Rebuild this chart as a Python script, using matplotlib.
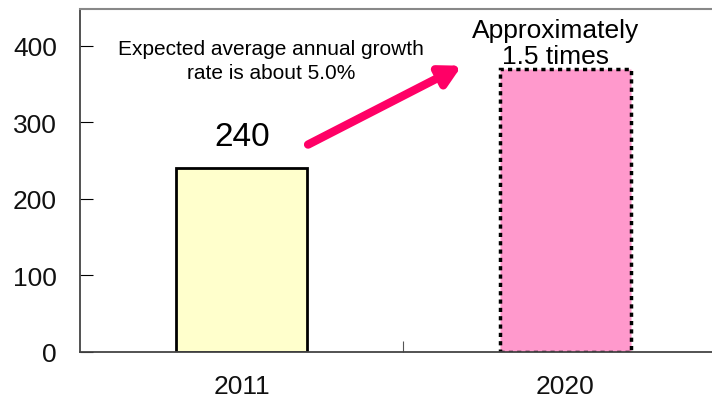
import matplotlib.pyplot as plt

plt.rcParams['font.family'] = ['Liberation Sans', 'DejaVu Sans']

# data
years = ['2011', '2020']
values = [240, 370]
bar_colors = ['#FFFFCC', '#FF99CC']

fig = plt.figure(figsize=(7.12, 4.02), dpi=100)
ax = fig.add_axes([0.1124, 0.1219, 0.9086, 0.853])

x = range(len(years))
bars = ax.bar(x, values, width=0.405, color=bar_colors, edgecolor='black', linewidth=2)
bars[1].set_linestyle((0, (1.2, 1.2)))
bars[1].set_linewidth(2.5)

ax.set_xlim(-0.5, 1.5)
ax.set_ylim(0, 448)
ax.set_yticks([0, 100, 200, 300, 400])
ax.set_xticks([0.5])
ax.set_xticklabels([''])
for i, yr in enumerate(years):
    ax.text(i, -44, yr, ha='center', va='center', fontsize=19, color='#111111')

ax.tick_params(axis='y', direction='in', length=9, labelsize=19, labelcolor='#111111', pad=16.5)
ax.tick_params(axis='x', direction='in', length=8, color='#555555')

for s in ['left', 'bottom']:
    ax.spines[s].set_color('#444444')
    ax.spines[s].set_linewidth(1.3)
ax.spines['top'].set_color('#888888')
ax.spines['top'].set_linewidth(1.5)
ax.spines['right'].set_visible(False)

# annotations
ax.text(0, 281, str(values[0]), ha='center', va='center', fontsize=24)
ax.text(0.97, 404, 'Approximately\n1.5 times', ha='center', va='center',
        fontsize=19, linespacing=1.08)
ax.text(0.09, 381, 'Expected average annual growth\nrate is about 5.0%',
        ha='center', va='center', fontsize=15, linespacing=1.3)

ax.annotate('', xy=(0.68, 374), xytext=(0.205, 271),
            arrowprops=dict(arrowstyle='-|>,head_length=1.2,head_width=0.65',
                            color='#FF0066', lw=6, shrinkA=0, shrinkB=0))

fig.savefig('out.png', dpi=100)
